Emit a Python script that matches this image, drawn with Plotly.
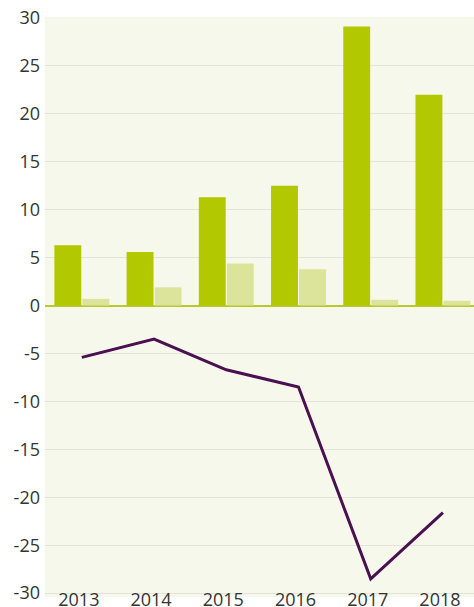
import plotly.graph_objects as go

years = ["2013", "2014", "2015", "2016", "2017", "2018"]
series_a = [6.3, 5.6, 11.3, 12.5, 29.1, 22.0]
series_b = [0.7, 1.9, 4.4, 3.8, 0.6, 0.5]
series_line = [-5.4, -3.5, -6.7, -8.5, -28.5, -21.6]
y_ticks = [-30, -25, -20, -15, -10, -5, 0, 5, 10, 15, 20, 25, 30]
y_ticktext = [str(v) for v in y_ticks]

fig = go.Figure()
fig.add_trace(go.Bar(x=years, y=series_a, marker=dict(color="#b2c800", line=dict(width=0))))
fig.add_trace(go.Bar(x=years, y=series_b, marker=dict(color="#dce39a", line=dict(width=0))))
fig.add_trace(go.Scatter(x=years, y=series_line, mode="lines",
                         line=dict(color="#4a1050", width=3)))

fig.update_layout(
    width=474, height=607,
    margin=dict(l=45, r=0, t=17, b=10, autoexpand=False),
    paper_bgcolor="white",
    plot_bgcolor="#f7f8ec",
    showlegend=False,
    barmode="group",
    bargap=0.224,
    bargroupgap=0.04,
    font=dict(family="Open Sans", size=18, color="#333333"),
    xaxis=dict(type="category", range=[-0.51, 5.43], showgrid=False,
               zeroline=False, showline=False, ticks="", automargin=False,
               ticklabelstandoff=-10, ticklabelshift=-3,
               tickfont=dict(size=18, color="#333333")),
    yaxis=dict(range=[-30.4, 30.1], tickvals=y_ticks, ticktext=y_ticktext,
               showgrid=True, gridcolor="#e4e4dc", gridwidth=1,
               zeroline=True, zerolinecolor="#b8c92e", zerolinewidth=2,
               showline=False, ticks="", ticklabelstandoff=4, automargin=False,
               tickfont=dict(size=18, color="#333333")),
)

fig.write_html(
    "out.html",
    config={"displayModeBar": False},
    post_script="document.body.style.margin='0';document.body.style.overflow='hidden';",
)
